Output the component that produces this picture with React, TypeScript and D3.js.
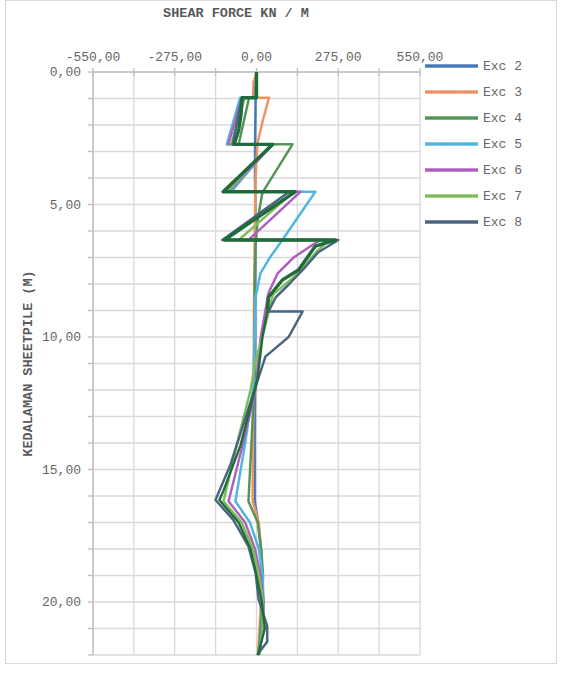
import React from "react";
import * as d3 from "d3";

// ---- data ----
const seriesNames = ["Exc 2", "Exc 3", "Exc 4", "Exc 5", "Exc 6", "Exc 7", "Exc 8"];

const depthExc2 = [0, 1, 2, 3, 4, 5, 6, 8, 10, 12, 14, 16.2, 17, 18, 19, 20, 21, 22];
const valExc2 = [0, -3, -4, -5, -5, -4, -4, -4, -4, -5, -6, -6, 6, 14, 20, 22, 18, 8];

const depthExc3 = [0, 0.4, 0.97, 0.97, 1.8, 2.7, 4, 6, 8, 10, 12, 14, 16.2, 17, 18, 19, 20, 21, 22];
const valExc3 = [0, -10, -12, 42, 22, 3, -3, -6, -8, -9, -10, -12, -13, 8, 15, 17, 15, 10, 5];

const depthExc4 = [0, 0.97, 0.97, 2.73, 2.73, 4.55, 5.5, 6.5, 8, 10, 12, 14, 16.2, 17, 18, 19, 20, 21, 22];
const valExc4 = [0, -2, -25, -60, 121, 20, 5, -3, -6, -6, -8, -17, -27, 4, 16, 22, 20, 14, 6];

const depthExc5 = [0, 0.97, 0.97, 2.73, 2.73, 4.52, 4.52, 6.34, 6.97, 7.6, 8.5, 10, 12, 14, 16.2, 17, 18, 19, 20, 21, 22];
const valExc5 = [0, -3, -55, -100, 50, -85, 198, 87, 47, 13, -3, -6, -12, -38, -71, -22, 8, 20, 24, 20, 8];

const depthExc6 = [0, 0.97, 0.97, 2.73, 2.73, 4.52, 4.52, 6.34, 6.34, 6.53, 7.0, 7.6, 8.35, 9.0, 10.1, 12, 14, 16.2, 17, 18, 19, 20, 21, 22];
const valExc6 = [0, -3, -48, -95, 55, -95, 148, -27, 215, 188, 125, 71, 40, 30, 13, -3, -45, -94, -38, -5, 14, 24, 22, 8];

const depthExc7 = [0, 0.97, 0.97, 2.73, 2.73, 4.52, 4.52, 6.34, 6.34, 6.8, 7.6, 8.4, 9.1, 10, 10.9, 12, 14, 16.2, 17, 18, 19, 20, 21, 22];
const valExc7 = [0, -3, -40, -85, 50, -100, 125, -60, 245, 200, 140, 55, 40, 20, -3, -20, -65, -111, -50, -12, 8, 22, 22, 8];

const depthExc8 = [0, 0.97, 0.97, 2.73, 2.73, 4.52, 4.52, 6.34, 6.34, 6.8, 7.35, 8.0, 8.5, 9.04, 9.04, 10.0, 10.74, 11.7, 12.8, 14.8, 16.15, 16.9, 17.9, 18.9, 19.9, 20.9, 21.5, 22];
const valExc8 = [0, -3, -50, -80, 55, -112, 110, -115, 275, 208, 165, 110, 65, 40, 155, 108, 30, 2, -30, -87, -138, -78, -27, -3, 7, 36, 36, 2];

// unlabeled heavy series (no legend entry in the reference)
const depthHeavy = [0, 0.97, 0.97, 1.6, 2.2, 2.73, 2.73, 4.52, 4.52, 6.34, 6.34, 6.57, 7.47, 7.85, 8.5, 9.0, 10, 11.6, 14.1, 15.8, 16.15, 17, 18, 19, 20, 21, 22];
const valHeavy = [0, 0, -48, -52, -60, -75, 55, -112, 130, -108, 265, 198, 141, 87, 40, 37, 20, 3, -54, -111, -125, -60, -20, 0, 18, 28, 5];
const heavyThickUntil = 9.0;

const xTicks = [-550, -275, 0, 275, 550];
const xGrid = [-550, -412.5, -275, -137.5, 0, 137.5, 275, 412.5, 550];
const yTicks = [0, 5, 10, 15, 20];
const yGrid = d3.range(0, 23, 1);

const seriesColors = ["#4A7EBB", "#F59A6A", "#599A5C", "#55BDE5", "#B565C6", "#86C35F", "#4E6A85"];
const heavyColor = "#1F6B3B";

const fmt = (v: number) => d3.format(".2f")(v).replace(".", ",").replace("−", "-");

export default function App() {
  const W = 564, H = 675;
  const x = d3.scaleLinear().domain([-550, 550]).range([93, 420]);
  const y = d3.scaleLinear().domain([0, 22]).range([72, 655]);

  const series = [
    { d: depthExc2, v: valExc2 },
    { d: depthExc3, v: valExc3 },
    { d: depthExc4, v: valExc4 },
    { d: depthExc5, v: valExc5 },
    { d: depthExc6, v: valExc6 },
    { d: depthExc7, v: valExc7 },
    { d: depthExc8, v: valExc8 },
  ];
  const line = d3
    .line<[number, number]>()
    .x((p) => x(p[0]))
    .y((p) => y(p[1]));
  const pts = (s: { d: number[]; v: number[] }) => s.d.map((dd, i) => [s.v[i], dd] as [number, number]);

  const heavyPts = pts({ d: depthHeavy, v: valHeavy });
  const heavyUpper = heavyPts.filter((p) => p[1] <= heavyThickUntil);
  const heavyLower = heavyPts.filter((p) => p[1] >= heavyThickUntil);

  const font = "'Liberation Mono', 'DejaVu Sans Mono', monospace";
  const gridColor = "#D9D9D9";
  const textColor = "#666666";

  return (
    <svg width={W} height={H} style={{ position: "absolute", left: 0, top: 0, background: "#fff" }}>
      <rect x={5.5} y={0.5} width={551} height={663} fill="#fff" stroke={gridColor} strokeWidth={1} />
      {/* grid */}
      {xGrid.map((g) => (
        <line key={"xg" + g} x1={x(g)} x2={x(g)} y1={y(0)} y2={y(22)} stroke={gridColor} strokeWidth={1.3} />
      ))}
      {yGrid.map((g) => (
        <line key={"yg" + g} x1={x(-550)} x2={x(550)} y1={y(g)} y2={y(g)} stroke={gridColor} strokeWidth={1.3} />
      ))}
      {/* axes */}
      <line x1={x(-550)} x2={x(550)} y1={y(0)} y2={y(0)} stroke="#BFBFBF" strokeWidth={1.3} />
      <line x1={x(-550)} x2={x(-550)} y1={y(0)} y2={y(22)} stroke="#BFBFBF" strokeWidth={1.3} />
      {xGrid.map((g) => (
        <line key={"xt" + g} x1={x(g)} x2={x(g)} y1={y(0) - 4} y2={y(0) + 4} stroke="#BFBFBF" strokeWidth={1.3} />
      ))}
      {yGrid.map((g) => (
        <line key={"yt" + g} x1={x(-550) - 5} x2={x(-550)} y1={y(g)} y2={y(g)} stroke="#BFBFBF" strokeWidth={1.3} />
      ))}
      {xTicks.map((t) => (
        <text key={"xl" + t} x={x(t)} y={y(0) - 11} textAnchor="middle" fontFamily={font} fontSize={13} fill={textColor}>
          {fmt(t)}
        </text>
      ))}
      {yTicks.map((t) => (
        <text key={"yl" + t} x={81} y={y(t) + 4} textAnchor="end" fontFamily={font} fontSize={13} fill={textColor}>
          {fmt(t)}
        </text>
      ))}
      {/* series */}
      {series.map((s, i) => {
        const c = seriesColors[i];
        const dk = d3.color(c)!.darker(0.8).formatHex();
        const p = line(pts(s)) || "";
        return (
          <g key={"s" + i}>
            <path d={p} fill="none" stroke={c} strokeWidth={2.5} strokeLinejoin="round" />
            <path d={p} fill="none" stroke={dk} strokeWidth={1.2} strokeDasharray="1.5,1.5" opacity={0.45} />
          </g>
        );
      })}
      <path d={line(heavyLower) || ""} fill="none" stroke={heavyColor} strokeWidth={2.4} strokeLinejoin="round" />
      <path d={line(heavyUpper) || ""} fill="none" stroke={heavyColor} strokeWidth={3.4} strokeLinejoin="round" />
      {/* legend */}
      {seriesNames.map((n, i) => {
        const c = seriesColors[i];
        const dk = d3.color(c)!.darker(0.8).formatHex();
        const ly = 66 + i * 26;
        return (
          <g key={"lg" + n}>
            <line x1={425} x2={478} y1={ly} y2={ly} stroke={c} strokeWidth={3.5} />
            <line x1={425} x2={478} y1={ly} y2={ly} stroke={dk} strokeWidth={1.4} strokeDasharray="1.5,1.5" opacity={0.5} />
            <text x={483} y={ly + 4} fontFamily={font} fontSize={13} fill={textColor}>
              {n}
            </text>
          </g>
        );
      })}
      {/* titles */}
      <text x={236} y={17} textAnchor="middle" fontFamily={font} fontSize={13.5} fontWeight="bold" fill="#595959">
        SHEAR FORCE KN / M
      </text>
      <text
        transform={`translate(32,${(y(0) + y(22)) / 2}) rotate(-90)`}
        textAnchor="middle"
        fontFamily={font}
        fontSize={13.5}
        fontWeight="bold"
        fill="#595959"
      >
        KEDALAMAN SHEETPILE (M)
      </text>
    </svg>
  );
}
